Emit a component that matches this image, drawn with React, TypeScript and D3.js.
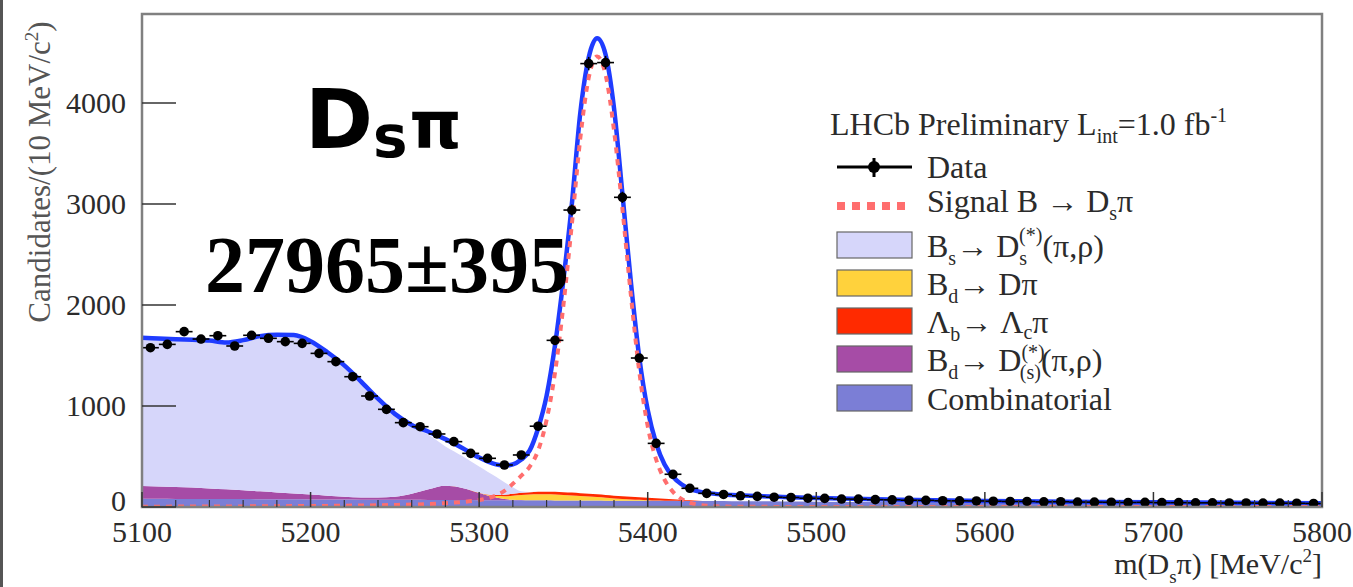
import React from 'react';
import * as d3 from 'd3';

const W = 1353;
const H = 587;
const M = { left: 142, right: 1322, top: 14, bottom: 507 };
const FONT = "'Liberation Serif', 'Times New Roman', serif";

const massTicks = [5100, 5200, 5300, 5400, 5500, 5600, 5700, 5800];
const countTicks = [0, 1000, 2000, 3000, 4000];

// data points, 10 MeV bins starting at 5100
const dataCounts = [
  1577, 1610, 1736, 1663, 1696, 1594, 1700, 1670, 1637, 1620,
  1521, 1439, 1290, 1099, 967, 835, 795, 723, 647, 531,
  482, 416, 515, 800, 1650, 2940, 4390, 4400, 3066, 1475,
  630, 324, 185, 135, 124, 111, 105, 97, 94, 87,
  85, 79, 78, 73, 71, 67, 66, 62, 61, 60,
  57, 55, 55, 51, 52, 49, 48, 47, 45, 46,
  43, 43, 41, 41, 40, 40, 38, 38, 37, 35,
];
const dataMass = dataCounts.map((_, i) => 5105 + i * 10);

// fit curves, sampled at these masses
const fitMass = [
  5100, 5110, 5120, 5130, 5140, 5150, 5160, 5170, 5180, 5190, 5200, 5210, 5220, 5230, 5240, 5250, 5260, 5270, 5280, 5290, 5300,
  5305, 5310, 5315, 5320, 5325, 5330, 5335, 5340, 5345, 5350, 5355, 5360, 5365, 5370, 5375, 5380, 5385, 5390, 5395, 5400,
  5405, 5410, 5415, 5420, 5425, 5430, 5435, 5440,
  5450, 5460, 5480, 5500, 5550, 5600, 5650, 5700, 5750, 5800,
];
const totalFit = [
  1676, 1668, 1660, 1655, 1648, 1628, 1652, 1692, 1706, 1702, 1642, 1532, 1402, 1242, 1072, 922, 812, 745, 672, 585, 490,
  452, 422, 410, 422, 470, 560, 780, 1100, 1600, 2250, 3000, 3900, 4450, 4640, 4480, 3950, 3100, 2230, 1480, 960,
  630, 420, 300, 225, 180, 155, 140, 130,
  120, 112, 100, 90, 72, 60, 52, 46, 41, 37,
];
const signalFit = [
  3, 3, 4, 4, 5, 5, 6, 7, 8, 9, 10, 11, 13, 15, 17, 20, 24, 30, 38, 50, 68,
  85, 115, 160, 230, 310, 400, 560, 860, 1330, 2000, 2800, 3650, 4250, 4460, 4280, 3730, 2950, 2100, 1340, 800,
  470, 270, 150, 80, 42, 22, 12, 7,
  3, 2, 1, 0, 0, 0, 0, 0, 0, 0,
];
const combinatorial = [
  82, 81, 80, 80, 79, 78, 78, 77, 76, 76, 75, 74, 74, 73, 72, 72, 71, 70, 70, 69, 68,
  68, 68, 67, 67, 67, 66, 66, 66, 65, 65, 65, 64, 64, 64, 63, 63, 63, 62, 62, 62,
  61, 61, 61, 60, 60, 60, 59, 59,
  58, 57, 55, 53, 49, 46, 43, 40, 38, 36,
];
const bdDsPartReco = [
  125, 122, 118, 112, 105, 97, 88, 78, 68, 58, 48, 38, 28, 22, 22, 30, 60, 105, 140, 120, 70,
  45, 25, 12, 5, 2, 0, 0, 0, 0, 0, 0, 0, 0, 0, 0, 0, 0, 0, 0, 0,
  0, 0, 0, 0, 0, 0, 0, 0,
  0, 0, 0, 0, 0, 0, 0, 0, 0, 0,
];
const bdDPi = [
  0, 0, 0, 0, 0, 0, 0, 0, 0, 0, 0, 0, 0, 0, 0, 0, 0, 0, 0, 0, 0,
  5, 15, 28, 40, 50, 57, 60, 60, 58, 55, 50, 45, 40, 34, 28, 22, 17, 13, 9, 6,
  4, 2, 1, 0, 0, 0, 0, 0,
  0, 0, 0, 0, 0, 0, 0, 0, 0, 0,
];
const lbLcPi = [
  0, 0, 0, 0, 0, 0, 0, 0, 0, 0, 0, 0, 0, 0, 0, 0, 0, 0, 0, 0, 3,
  6, 10, 14, 18, 21, 23, 25, 26, 27, 27, 28, 28, 28, 28, 28, 27, 27, 26, 25, 24,
  22, 19, 15, 10, 6, 3, 1, 0,
  0, 0, 0, 0, 0, 0, 0, 0, 0, 0,
];
const bsDsStarPi = [
  1466, 1462, 1458, 1459, 1459, 1448, 1480, 1530, 1554, 1559, 1509, 1409, 1287, 1132, 961, 800, 657, 540, 390, 316, 259,
  226, 182, 124, 65, 15, 3, 0, 0, 0, 0, 0, 0, 0, 0, 0, 0, 0, 0, 0, 0,
  0, 0, 0, 0, 0, 0, 0, 0,
  0, 0, 0, 0, 0, 0, 0, 0, 0, 0,
];

const stackKeys = ['comb', 'partReco', 'dpi', 'lb', 'bs'];
const stackColors = {
  comb: '#7b7ed6',
  partReco: '#a64ca6',
  dpi: '#ffd23c',
  lb: '#ff2a00',
  bs: '#d6d6fa',
};

export default function App() {
  const x = d3.scaleLinear().domain([5100, 5800]).range([M.left, M.right]);
  const y = d3.scaleLinear().domain([0, 4881]).range([M.bottom, M.top]);

  const rows = fitMass.map((m, i) => ({
    m,
    comb: combinatorial[i],
    partReco: bdDsPartReco[i],
    dpi: bdDPi[i],
    lb: lbLcPi[i],
    bs: bsDsStarPi[i],
  }));
  const series = d3.stack().keys(stackKeys)(rows);

  const area = d3.area()
    .x((d) => x(d.data.m))
    .y0((d) => y(d[0]))
    .y1((d) => y(d[1]))
    .curve(d3.curveMonotoneX);

  const line = d3.line()
    .x((d) => x(d[0]))
    .y((d) => y(d[1]))
    .curve(d3.curveMonotoneX);

  const totalPath = line(fitMass.map((m, i) => [m, totalFit[i]]));
  const signalPath = line(fitMass.map((m, i) => [m, signalFit[i]]));

  const minorTicks = d3.range(5100, 5801, 20).filter((v) => v % 100 !== 0);

  const legendRows = [
    { key: 'bs', base: 257 },
    { key: 'dpi', base: 295 },
    { key: 'lb', base: 333 },
    { key: 'partReco', base: 371 },
    { key: 'comb', base: 410 },
  ];

  return (
    <svg width={W} height={H} style={{ position: 'absolute', left: 0, top: 0, background: '#fff' }}
      fontFamily={FONT}>
      <defs>
        <clipPath id="plot">
          <rect x={M.left} y={M.top} width={M.right - M.left} height={M.bottom - M.top} />
        </clipPath>
      </defs>
      <rect x={0} y={0} width={3} height={H} fill="#555" />

      <g clipPath="url(#plot)">
        {series.map((s) => (
          <path key={s.key} d={area(s)} fill={stackColors[s.key]} />
        ))}
        <path d={totalPath} fill="none" stroke="#1f3cff" strokeWidth={4.5} />
        <path d={signalPath} fill="none" stroke="#ff6e6e" strokeWidth={4} strokeDasharray="6,6" />
        {dataMass.map((m, i) => {
          const n = dataCounts[i];
          const e = Math.sqrt(n);
          return (
            <g key={m} stroke="#000" strokeWidth={1.6}>
              <line x1={x(m - 5)} x2={x(m + 5)} y1={y(n)} y2={y(n)} />
              <line x1={x(m)} x2={x(m)} y1={y(n - e)} y2={y(n + e)} />
              <circle cx={x(m)} cy={y(n)} r={4.8} fill="#000" stroke="none" />
            </g>
          );
        })}
      </g>

      {/* axes */}
      <rect x={M.left} y={M.top} width={M.right - M.left} height={M.bottom - M.top}
        fill="none" stroke="#808080" strokeWidth={2.5} />
      {countTicks.map((t) => (
        <g key={t}>
          <line x1={M.left} x2={M.left + 34} y1={y(t)} y2={y(t)} stroke="#333" strokeWidth={1.5} />
          <text x={126} y={y(t) - (t === 0 ? 7 : 0)} dy="0.35em" textAnchor="end" fontSize={30} fill="#2b2b2b">{t}</text>
        </g>
      ))}
      {massTicks.map((t) => (
        <g key={t}>
          <line x1={x(t)} x2={x(t)} y1={M.bottom} y2={M.bottom - 15} stroke="#333" strokeWidth={1.5} />
          <text x={x(t)} y={542} textAnchor="middle" fontSize={30} fill="#2b2b2b">{t}</text>
        </g>
      ))}
      {minorTicks.map((t) => (
        <line key={t} x1={x(t)} x2={x(t)} y1={M.bottom} y2={M.bottom - 7} stroke="#333" strokeWidth={1.2} />
      ))}

      <text transform="translate(50,172) rotate(-90)" textAnchor="middle" fontSize={31} fill="#555">
        Candidates/(10 MeV/c<tspan fontSize={19} dy={-12}>2</tspan><tspan dy={12}>)</tspan>
      </text>
      <text x={1322} y={574} textAnchor="end" fontSize={30} fill="#2b2b2b">
        m(D<tspan fontSize={19} dy={9}>s</tspan><tspan dy={-9}>π) [MeV/c</tspan>
        <tspan fontSize={19} dy={-12}>2</tspan><tspan dy={12}>]</tspan>
      </text>

      {/* legend */}
      <g fill="#2b2b2b" fontSize={32}>
        <text x={830} y={135}>
          LHCb Preliminary L<tspan fontSize={20} dy={8}>int</tspan>
          <tspan dy={-8}>=1.0 fb</tspan><tspan fontSize={20} dy={-13}>-1</tspan>
        </text>
        <line x1={837} x2={912} y1={167} y2={167} stroke="#000" strokeWidth={3} />
        <line x1={874} x2={874} y1={158} y2={177} stroke="#000" strokeWidth={3} />
        <circle cx={874} cy={167} r={6} fill="#000" />
        <text x={927} y={178}>Data</text>
        <line x1={837} x2={912} y1={206} y2={206} stroke="#ff6e6e" strokeWidth={8} strokeDasharray="8,7" />
        <text x={927} y={212}>
          Signal B → D<tspan fontSize={20} dy={8}>s</tspan><tspan dy={-8}>π</tspan>
        </text>
        {legendRows.map((r) => (
          <rect key={r.key} x={837} y={r.base - 25} width={75} height={26}
            fill={stackColors[r.key]} stroke="#666" strokeWidth={1.2} />
        ))}
        <text x={927} y={257}>
          B<tspan fontSize={20} dy={8}>s</tspan><tspan dy={-8}>→ D</tspan>
          <tspan fontSize={20} dy={8}>s</tspan><tspan fontSize={20} dx={-8} dy={-23}>(*)</tspan>
          <tspan dy={15}>(π,ρ)</tspan>
        </text>
        <text x={927} y={295}>
          B<tspan fontSize={20} dy={8}>d</tspan><tspan dy={-8}>→ Dπ</tspan>
        </text>
        <text x={927} y={333}>
          Λ<tspan fontSize={20} dy={8}>b</tspan><tspan dy={-8}>→ Λ</tspan>
          <tspan fontSize={20} dy={6}>c</tspan><tspan dy={-6}>π</tspan>
        </text>
        <text x={927} y={371}>
          B<tspan fontSize={20} dy={8}>d</tspan><tspan dy={-8}>→ D</tspan>
          <tspan fontSize={20} dy={-12}>(*)</tspan><tspan fontSize={20} dx={-25} dy={20}>(s)</tspan>
          <tspan dy={-8}>(π,ρ)</tspan>
        </text>
        <text x={927} y={410}>Combinatorial</text>
      </g>

      {/* annotations */}
      <text x={305} y={148} fontFamily="'DejaVu Sans', sans-serif" fontWeight="bold" fontSize={82} fill="#000">
        D<tspan fontSize={58} dy={9}>s</tspan><tspan fontSize={66} dy={-9} dx={2}>π</tspan>
      </text>
      <text x={205} y={292} fontWeight="bold" fontSize={80} fill="#000">27965±395</text>
    </svg>
  );
}
